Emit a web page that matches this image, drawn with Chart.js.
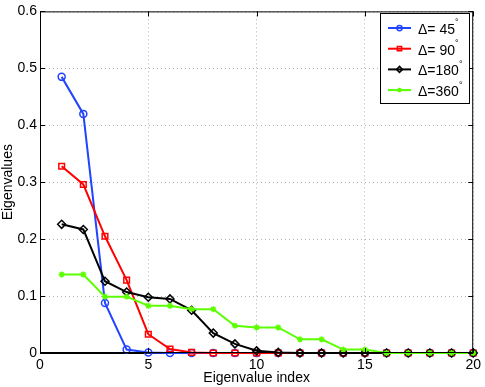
<!DOCTYPE html>
<html>
<head>
<meta charset="utf-8">
<script src="https://cdn.jsdelivr.net/npm/chart.js@4/dist/chart.umd.min.js"></script>
<style>
  html, body { margin: 0; padding: 0; background: #fff; }
  #wrap { width: 485px; height: 387px; }
</style>
</head>
<body>
<div id="wrap"><canvas id="eig-chart"></canvas></div>
<script>
// ── Data ─────────────────────────────────────────────────────────────────────

const INDEX = [1, 2, 3, 4, 5, 6, 7, 8, 9, 10, 11, 12, 13, 14, 15, 16, 17, 18, 19, 20];

const EIG_45  = [0.485, 0.420, 0.088, 0.006, 0.001, 0, 0, 0, 0, 0, 0, 0, 0, 0, 0, 0, 0, 0, 0, 0];
const EIG_90  = [0.328, 0.296, 0.205, 0.128, 0.033, 0.007, 0.001, 0, 0, 0, 0, 0, 0, 0, 0, 0, 0, 0, 0, 0];
const EIG_180 = [0.226, 0.217, 0.126, 0.107, 0.098, 0.095, 0.075, 0.035, 0.016, 0.004, 0.001, 0, 0, 0, 0, 0, 0, 0, 0, 0];
const EIG_360 = [0.138, 0.138, 0.099, 0.099, 0.083, 0.083, 0.077, 0.077, 0.048, 0.045, 0.045, 0.024, 0.024, 0.006, 0.006, 0, 0, 0, 0, 0];

const LABELS   = ["Δ= 45", "Δ= 90", "Δ=180", "Δ=360"];
const X_TICKS  = [0, 5, 10, 15, 20];
const Y_TICKS  = [0, 0.1, 0.2, 0.3, 0.4, 0.5, 0.6];

const FONT = "'Liberation Sans', Arial, Helvetica, sans-serif";

// ── Chart helpers ────────────────────────────────────────────────────────────

const toPoints = vals => vals.map((v, i) => ({ x: INDEX[i], y: v }));

const SERIES = [
  { label: LABELS[0], data: EIG_45,  color: "#2244ff", style: "circle",  radius: 3.5, order: 4 },
  { label: LABELS[1], data: EIG_90,  color: "#ff0000", style: "rect",    radius: 4,   order: 3 },
  { label: LABELS[2], data: EIG_180, color: "#000000", style: "rectRot", radius: 4,   order: 2 },
  { label: LABELS[3], data: EIG_360, color: "#5cff00", style: "star",    radius: 3,   order: 1 },
];

function drawMarker(ctx, style, x, y, r, color) {
  ctx.save();
  ctx.strokeStyle = color;
  ctx.lineWidth = 1.5;
  ctx.beginPath();
  if (style === "circle") {
    ctx.arc(x, y, r, 0, Math.PI * 2);
  } else if (style === "rect") {
    const s = r / Math.SQRT2;
    ctx.rect(x - s, y - s, 2 * s, 2 * s);
  } else if (style === "rectRot") {
    ctx.moveTo(x, y - r); ctx.lineTo(x + r, y); ctx.lineTo(x, y + r); ctx.lineTo(x - r, y); ctx.closePath();
  } else {
    ctx.moveTo(x - r, y); ctx.lineTo(x + r, y);
    ctx.moveTo(x, y - r); ctx.lineTo(x, y + r);
    const d = r * 0.7;
    ctx.moveTo(x - d, y - d); ctx.lineTo(x + d, y + d);
    ctx.moveTo(x - d, y + d); ctx.lineTo(x + d, y - d);
  }
  ctx.stroke();
  ctx.restore();
}

// box outline + inward tick marks, matlab style
const boxPlugin = {
  id: "box",
  afterDatasetsDraw(chart) {
    const { ctx, chartArea: a, scales } = chart;
    ctx.save();
    ctx.strokeStyle = "#000";
    ctx.lineWidth = 1;
    ctx.beginPath();
    ctx.rect(a.left + 0.5, a.top + 0.5, a.right - a.left - 1, a.bottom - a.top - 1);
    const len = 5;
    X_TICKS.forEach(v => {
      const px = Math.round(scales.x.getPixelForValue(v)) + 0.5;
      ctx.moveTo(px, a.bottom); ctx.lineTo(px, a.bottom - len);
      ctx.moveTo(px, a.top);    ctx.lineTo(px, a.top + len);
    });
    Y_TICKS.forEach(v => {
      const py = Math.round(scales.y.getPixelForValue(v)) + 0.5;
      ctx.moveTo(a.left, py);  ctx.lineTo(a.left + len, py);
      ctx.moveTo(a.right, py); ctx.lineTo(a.right - len, py);
    });
    ctx.stroke();
    ctx.restore();
  },
  afterDraw(chart) {
    // legend box in the upper right corner
    const ctx = chart.ctx;
    const bx = 380.5, by = 13.5, bw = 89, bh = 90;
    ctx.save();
    ctx.fillStyle = "#fff";
    ctx.fillRect(bx, by, bw, bh);
    ctx.strokeStyle = "#000";
    ctx.lineWidth = 1;
    ctx.strokeRect(bx, by, bw, bh);
    SERIES.forEach((s, i) => {
      const y = 28 + i * 20.7;
      ctx.strokeStyle = s.color;
      ctx.lineWidth = 2;
      ctx.beginPath();
      ctx.moveTo(388, y); ctx.lineTo(411, y);
      ctx.stroke();
      drawMarker(ctx, s.style, 399.5, y, s.radius * 0.75, s.color);
      ctx.fillStyle = "#000";
      ctx.textBaseline = "middle";
      ctx.textAlign = "left";
      ctx.font = `14px ${FONT}`;
      ctx.fillText(s.label, 418, y + 2);
      const w = ctx.measureText(s.label).width;
      ctx.font = `9px ${FONT}`;
      ctx.fillText("°", 418 + w, y - 5);
    });
    ctx.restore();
  },
};

const ctx = document.getElementById("eig-chart").getContext("2d");
new Chart(ctx, {
  type: "line",
  data: {
    datasets: SERIES.map(s => ({
      label: s.label,
      data: toPoints(s.data),
      borderColor: s.color,
      backgroundColor: "rgba(0,0,0,0)",
      borderWidth: 2,
      pointStyle: s.style,
      pointRadius: s.radius,
      pointBorderWidth: 1.5,
      pointBorderColor: s.color,
      pointBackgroundColor: "rgba(0,0,0,0)",
      tension: 0,
      clip: false,
      order: s.order,
    })),
  },
  options: {
    responsive: true,
    maintainAspectRatio: false,
    animation: false,
    layout: { padding: { top: 11, right: 11, left: 0, bottom: 0 } },
    plugins: { legend: { display: false }, tooltip: { enabled: false } },
    scales: {
      x: {
        type: "linear", min: 0, max: 20,
        afterBuildTicks: s => { s.ticks = X_TICKS.map(v => ({ value: v })); },
        afterFit: s => { s.height = 34; },
        ticks: { color: "#000", font: { family: FONT, size: 14 }, padding: 4, maxRotation: 0 },
        grid: { color: "#b0b0b0", lineWidth: 1, drawTicks: false },
        border: { color: "#000", dash: [1, 3] },
        title: { display: true, text: "Eigenvalue index", color: "#000",
                 font: { family: FONT, size: 14 }, padding: { top: 0, bottom: 0 } },
      },
      y: {
        min: 0, max: 0.6,
        afterBuildTicks: s => { s.ticks = Y_TICKS.map(v => ({ value: v })); },
        afterFit: s => { s.width = 40; },
        ticks: { color: "#000", font: { family: FONT, size: 14 }, padding: 3,
                 callback: v => v === 0 ? "0" : v.toFixed(1) },
        grid: { color: "#b0b0b0", lineWidth: 1, drawTicks: false },
        border: { color: "#000", dash: [1, 3] },
        title: { display: true, text: "Eigenvalues", color: "#000",
                 font: { family: FONT, size: 14 }, padding: { top: 0, bottom: 0 } },
      },
    },
  },
  plugins: [boxPlugin],
});
</script>
</body>
</html>
